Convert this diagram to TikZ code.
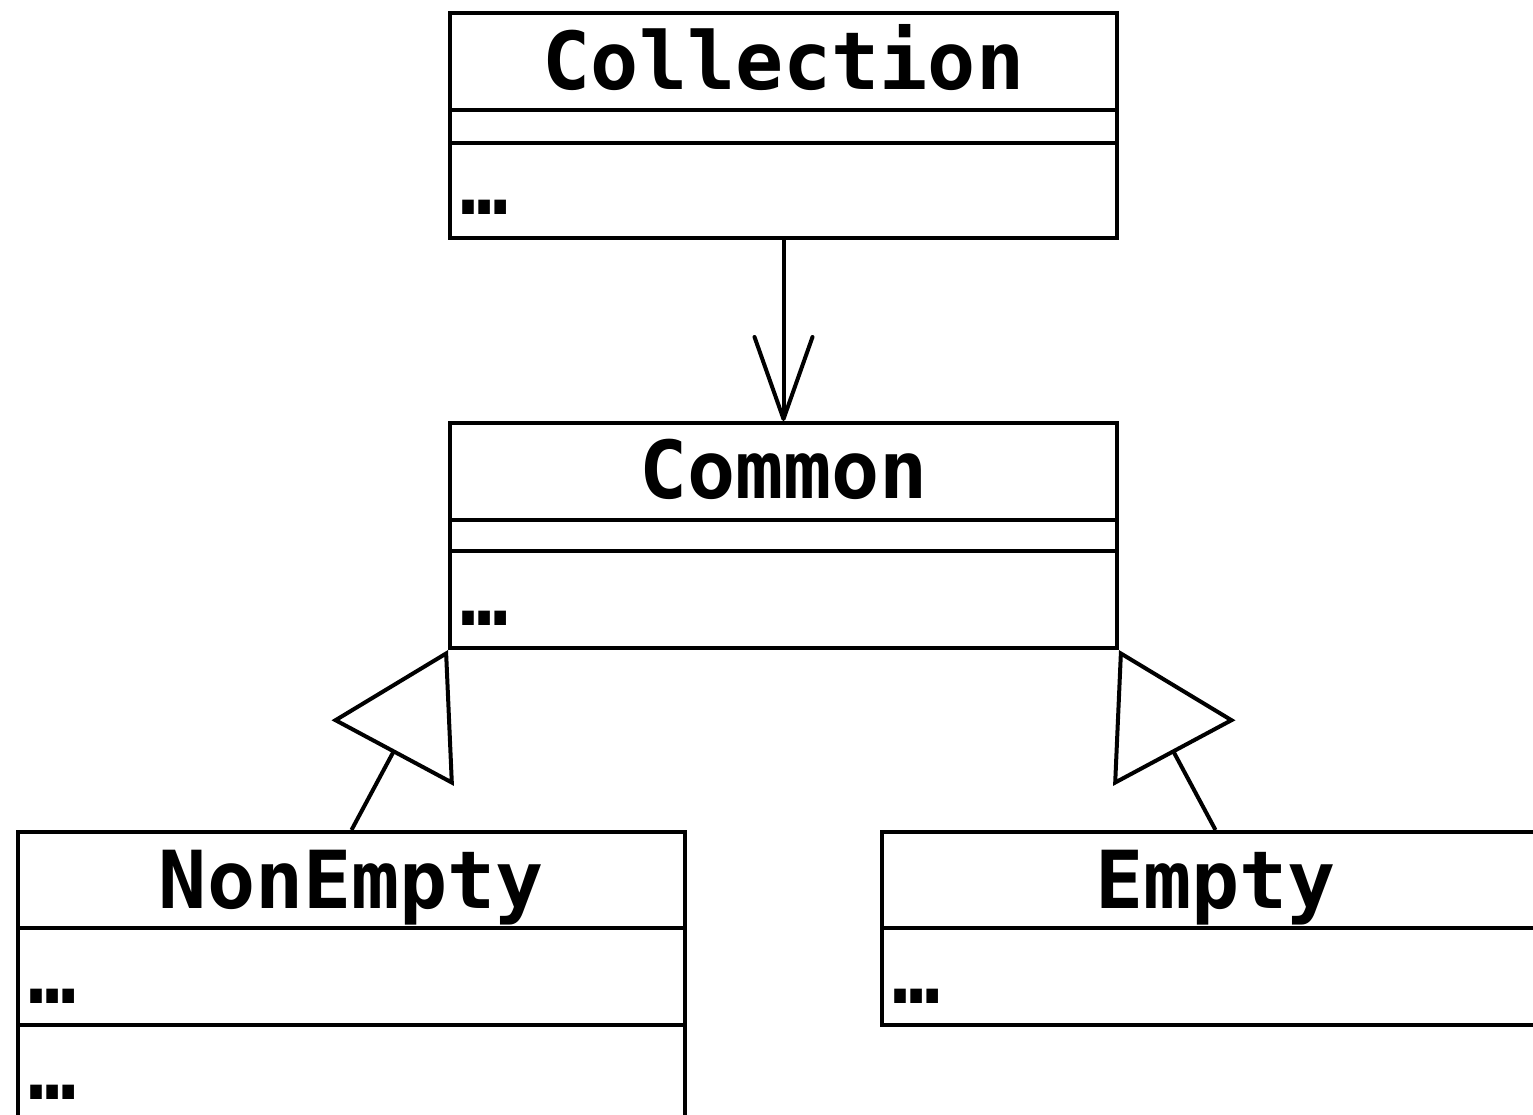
\documentclass[tikz,border=0pt]{standalone}
\usepackage{fontspec}
\newfontfamily\umlfont{DejaVu Sans Mono}
\usetikzlibrary{arrows.meta}
\begin{document}
\begin{tikzpicture}[x=1pt,y=-1pt,
  line width=4pt,
  umlbox/.style={draw, rectangle, inner sep=0pt, minimum width=667pt},
  title/.style={font=\umlfont\bfseries\fontsize{80}{96}\selectfont, inner sep=0pt, anchor=base},
  dotsnode/.style={font=\umlfont\bfseries\fontsize{80}{96}\selectfont, inner sep=0pt, anchor=base west},
  assoc/.style={-{Straight Barb[length=82pt,width=58pt,line width=4pt,round]}},
  gen/.style={-{Triangle[open,length=117pt,width=138pt,line width=4pt]}, line join=miter}
]
\useasboundingbox (0,0) rectangle (1533,1115);
\clip (0,0) rectangle (1533,1115);

% Collection
\node[umlbox, minimum height=225pt] (coll) at (783.5,125.5) {};
\draw (coll.west |- 0,110) -- (coll.east |- 0,110);
\draw (coll.west |- 0,143) -- (coll.east |- 0,143);
\node[title] (collT) at (783.5,90) {Collection};
\node[dotsnode] (collD) at (458,215) {…};

% Common
\node[umlbox, minimum height=225pt] (comm) at (783.5,535.5) {};
\draw (comm.west |- 0,520) -- (comm.east |- 0,520);
\draw (comm.west |- 0,551) -- (comm.east |- 0,551);
\node[title] (commT) at (783.5,498) {Common};
\node[dotsnode] (commD) at (458,625) {…};

% NonEmpty
\node[umlbox, minimum height=290pt] (ne) at (351.5,977) {};
\draw (ne.west |- 0,928) -- (ne.east |- 0,928);
\draw (ne.west |- 0,1025) -- (ne.east |- 0,1025);
\node[title] (neT) at (351.5,908) {NonEmpty};
\node[dotsnode] (neD1) at (26,1003) {…};
\node[dotsnode] (neD2) at (26,1099) {…};

% Empty
\node[umlbox, minimum height=193pt] (em) at (1215.5,928.5) {};
\draw (em.west |- 0,928) -- (em.east |- 0,928);
\node[title] (emT) at (1215.5,908) {Empty};
\node[dotsnode] (emD) at (890,1003) {…};

% connectors
\draw[assoc] (coll.south) -- (comm.north);
\draw[gen] (ne.north) -- (comm.south west);
\draw[gen] (em.north) -- (comm.south east);
\end{tikzpicture}
\end{document}
